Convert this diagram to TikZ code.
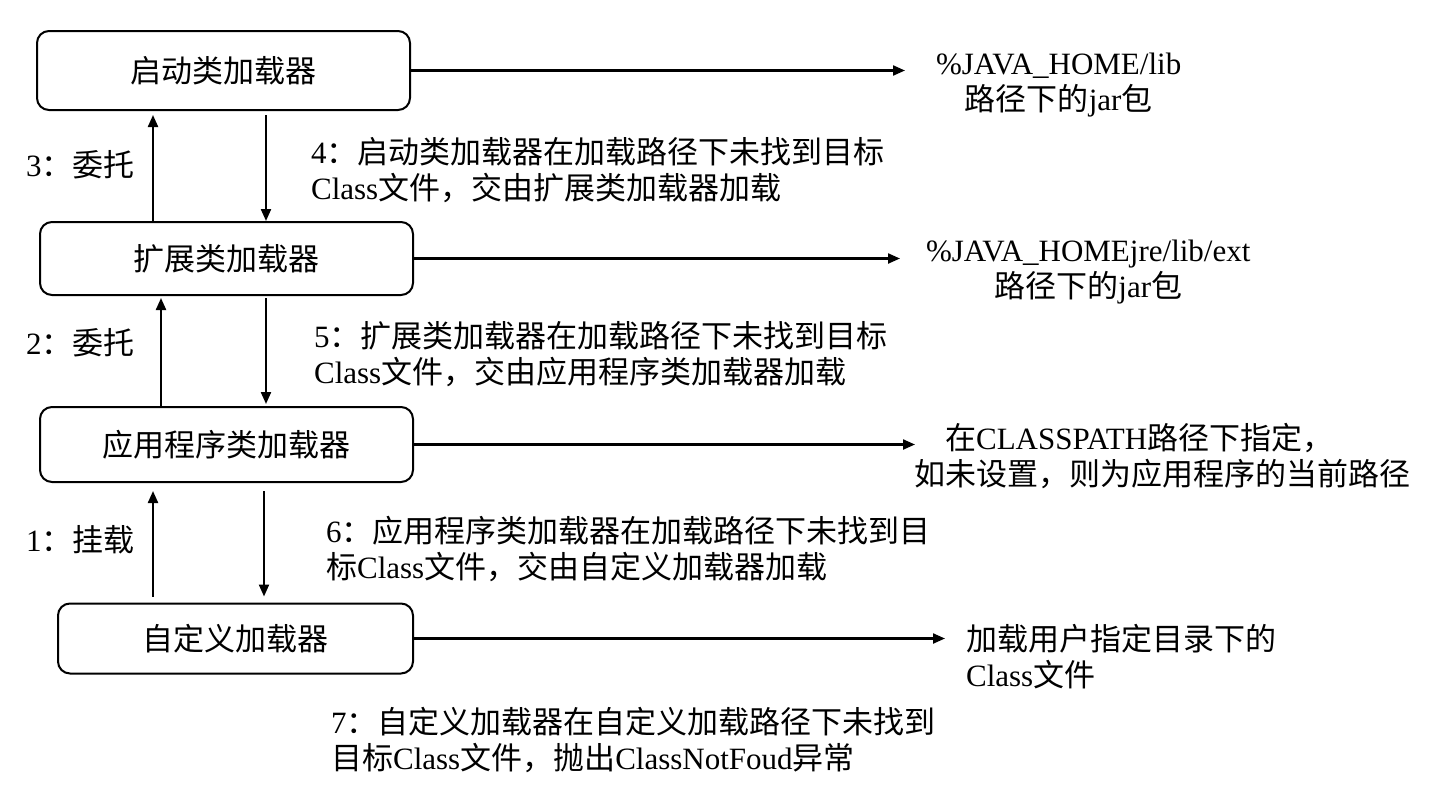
\documentclass[tikz,border=0pt]{standalone}
\usepackage{fontspec}
\setmainfont{Liberation Serif}
\newfontfamily\zhfont{Noto Sans CJK SC}
\newcommand{\zh}[1]{{\zhfont #1}}
\usetikzlibrary{arrows.meta}
\tikzset{
  loader/.style={draw, line width=1pt, rounded corners=6pt, inner sep=0pt,
    font=\fontsize{15.5}{18}\selectfont\zhfont},
  note/.style={inner sep=0pt, anchor=west, align=left},
}

\begin{document}
\begin{tikzpicture}[x=0.5pt,y=-0.5pt,>={Triangle[length=6pt,width=5pt]},line width=1.1pt,
  font=\fontsize{15.5}{18}\selectfont]
\useasboundingbox (0,0) rectangle (1430,793);
% loaders
\node[loader, minimum width=186.5pt, minimum height=39.5pt] (boot) at (223.5,70.5) {启动类加载器};
\node[loader, minimum width=186.5pt, minimum height=36.5pt] (ext) at (226.5,258.5) {扩展类加载器};
\node[loader, minimum width=186.5pt, minimum height=37.5pt] (app) at (226.5,444.5) {应用程序类加载器};
\node[loader, minimum width=177.5pt, minimum height=35pt] (custom) at (235.5,638.5) {自定义加载器};
% paths
\node[note, align=center] (bootpath) at (935,85) {\%JAVA\_HOME/lib\\\zh{路径下的}jar\zh{包}};
\node[note, align=center] (extpath) at (925,272) {\%JAVA\_HOMEjre/lib/ext\\\zh{路径下的}jar\zh{包}};
\node[note] (apppath) at (913,456) {\hspace*{1em}\zh{在}CLASSPATH\zh{路径下指定，}\\\zh{如未设置，则为应用程序的当前路径}};
\node[note] (custompath) at (965,657) {\zh{加载用户指定目录下的}\\Class\zh{文件}};
\draw[->, shorten >=15pt] (boot.east) -- (boot.east -| bootpath.west);
\draw[->, shorten >=12.5pt] (ext.east) -- (ext.east -| extpath.west);
\draw[->, shorten >=-1pt] (app.east) -- (app.east -| apppath.west);
\draw[->, shorten >=10pt] (custom.east) -- (custom.east -| custompath.west);
% delegation
\node[note] (d3) at (25,165) {3\zh{：委托}};
\node[note] (d2) at (25,343) {2\zh{：委托}};
\node[note] (d1) at (25,540) {1\zh{：挂载}};
\draw[->, shorten >=2pt] (ext.north -| 153,0) -- (boot.south -| 153,0);
\draw[->, shorten >=1pt] (app.north -| 161,0) -- (ext.south -| 161,0);
\draw[->, shorten <=3pt, shorten >=4pt] (custom.north -| 153,0) -- (app.south -| 153,0);
% fallback
\node[note] (f4) at (310,170) {4\zh{：启动类加载器在加载路径下未找到目标}\\Class\zh{文件，交由扩展类加载器加载}};
\node[note] (f5) at (313,354) {5\zh{：扩展类加载器在加载路径下未找到目标}\\Class\zh{文件，交由应用程序类加载器加载}};
\node[note] (f6) at (325,549) {6\zh{：应用程序类加载器在加载路径下未找到目}\\\zh{标}Class\zh{文件，交由自定义加载器加载}};
\node[note] (f7) at (330,740) {7\zh{：自定义加载器在自定义加载路径下未找到}\\\zh{目标}Class\zh{文件，抛出}ClassNotFoud\zh{异常}};
\draw[->, shorten <=2pt] (boot.south -| 266,0) -- (ext.north -| 266,0);
\draw[->, shorten <=1pt, shorten >=1pt] (ext.south -| 266,0) -- (app.north -| 266,0);
\draw[->, shorten <=4pt, shorten >=3pt] (app.south -| 264,0) -- (custom.north -| 264,0);
\end{tikzpicture}
\end{document}
